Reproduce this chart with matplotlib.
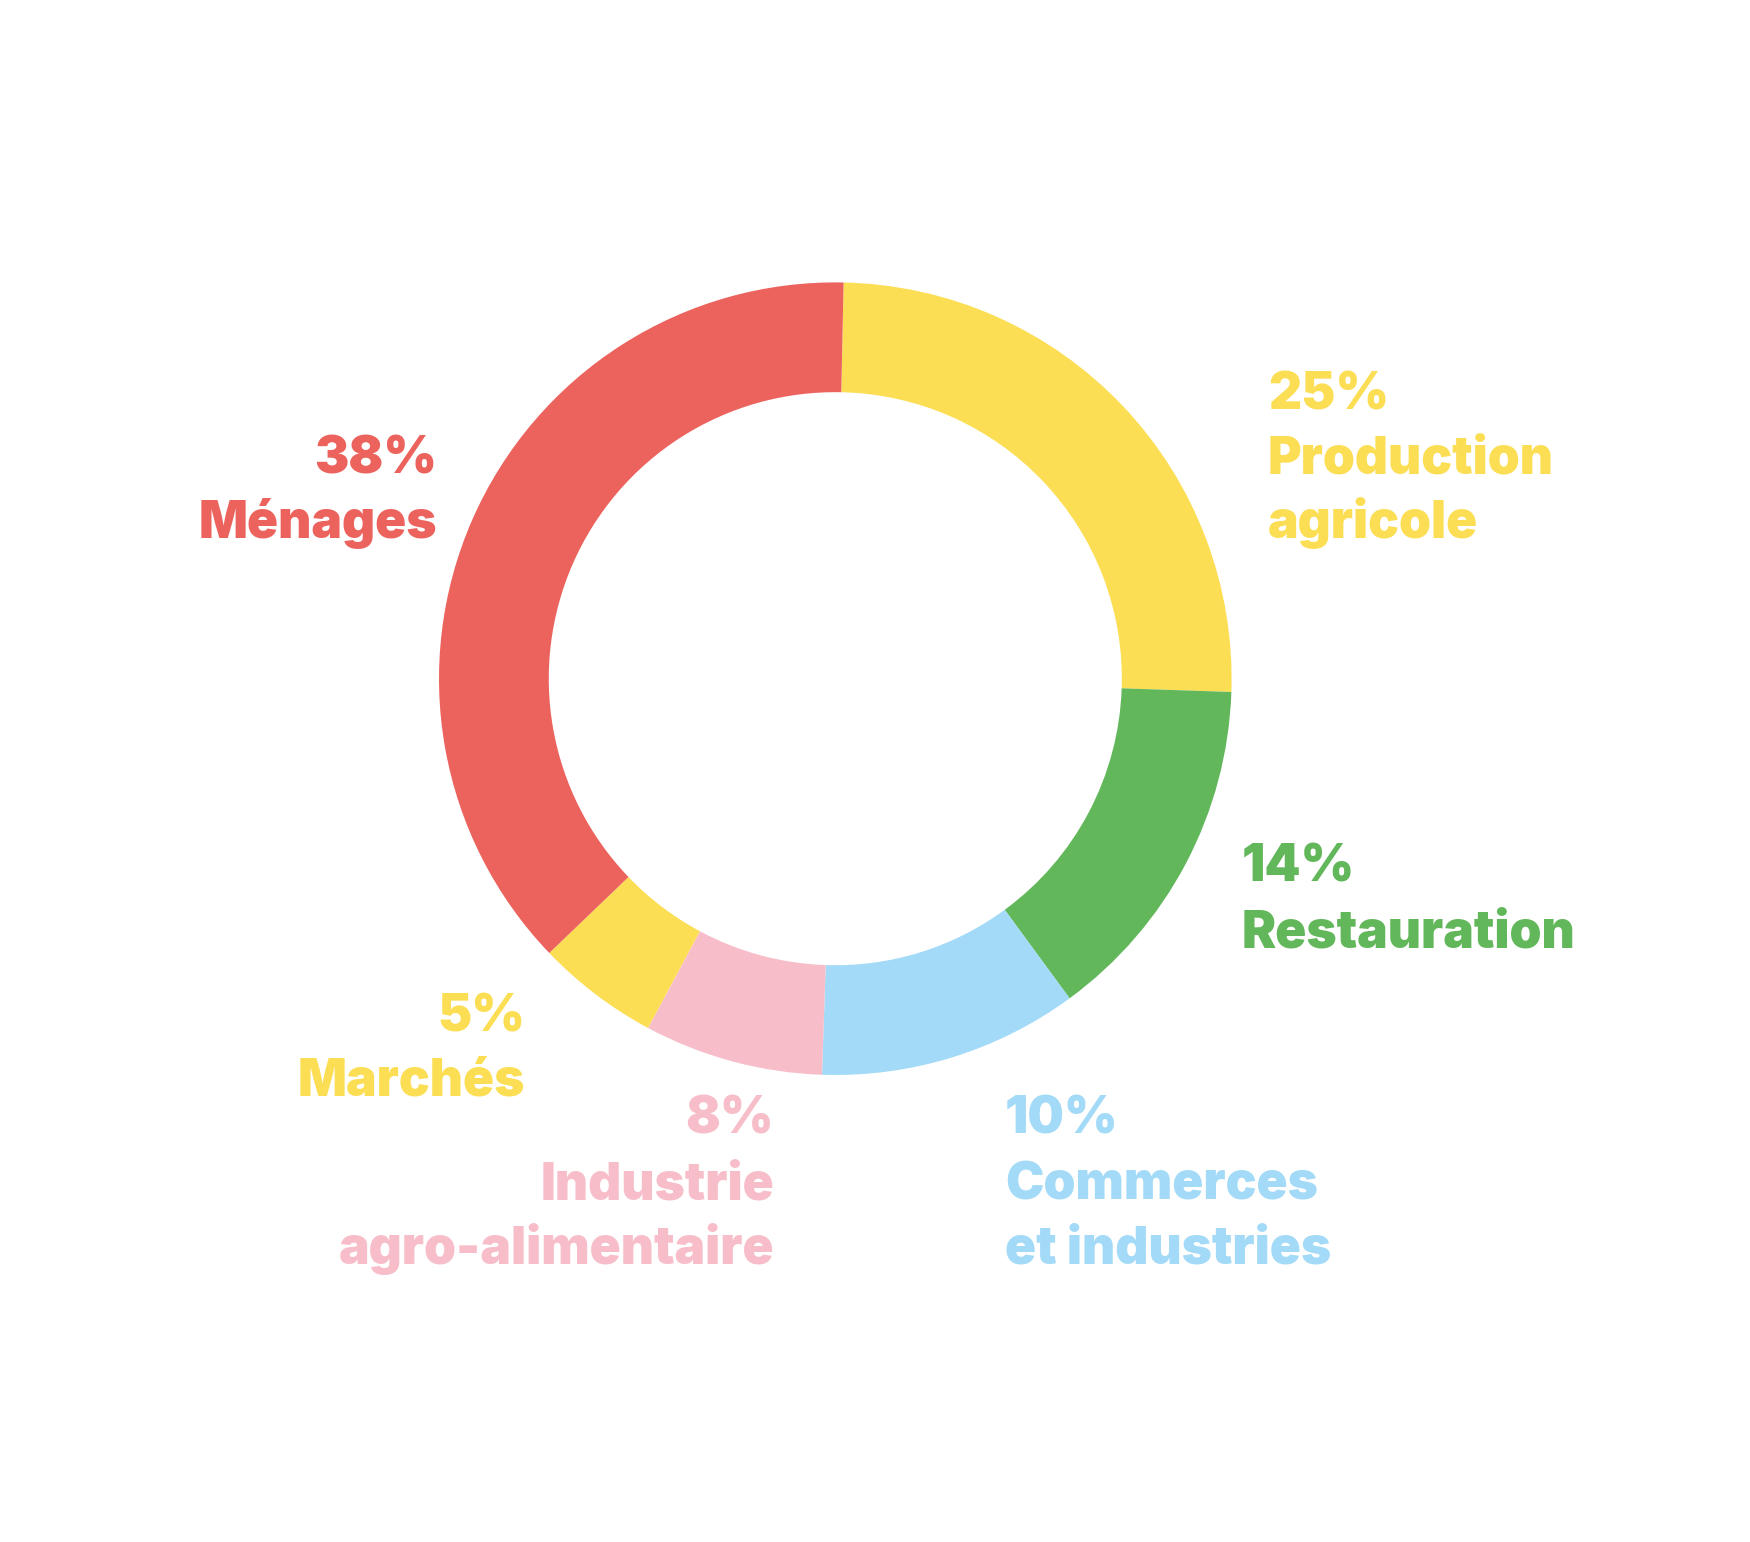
import matplotlib
matplotlib.use("Agg")
import matplotlib.pyplot as plt

# Data (shares as drawn, read from the ring), labels and colours
categories = ["Production agricole", "Restauration", "Commerces et industries",
              "Industrie agro-alimentaire", "Marchés", "Ménages"]
shares = [25.2, 14.4, 10.6, 7.3, 5.0, 37.5]
pct_labels = ["25%", "14%", "10%", "8%", "5%", "38%"]
name_lines = [["Production", "agricole"], ["Restauration"], ["Commerces", "et industries"],
              ["Industrie", "agro-alimentaire"], ["Marchés"], ["Ménages"]]
colors = ["#FCDE55", "#62B75B", "#A3DAF7", "#F7BECA", "#FCDE55", "#EC635E"]

W, H = 1750, 1542
fig = plt.figure(figsize=(W / 100, H / 100), dpi=100)
ax = fig.add_axes([0, 0, 1, 1])

cx, cy, R = 835.3, H - 678.7, 396.3
ax.pie(shares, colors=colors, startangle=88.8, counterclock=False,
       center=(cx, cy), radius=R, frame=True,
       wedgeprops=dict(width=R * 0.277, linewidth=0))
ax.set_xlim(0, W)
ax.set_ylim(0, H)
ax.set_aspect("equal")
ax.axis("off")

FONT = ["Inter", "DejaVu Sans"]
FS = 37
# (x, ha, baselines in pixels from top) per category
placements = [
    (1268, "left", [410, 473, 538]),
    (1242, "left", [882, 948]),
    (1005, "left", [1134, 1200, 1263]),
    (774, "right", [1134, 1199, 1264]),
    (525, "right", [1031, 1096]),
    (437, "right", [473, 538]),
]
for (x, ha, bls), pct, lines, col in zip(placements, pct_labels, name_lines, colors):
    texts = [pct] + lines
    for t, b in zip(texts, bls):
        ax.text(x, H - b, t, ha=ha, va="baseline", fontsize=FS, fontweight=900,
                family=FONT, color=col)

fig.savefig("out.png", dpi=100, facecolor="white")
